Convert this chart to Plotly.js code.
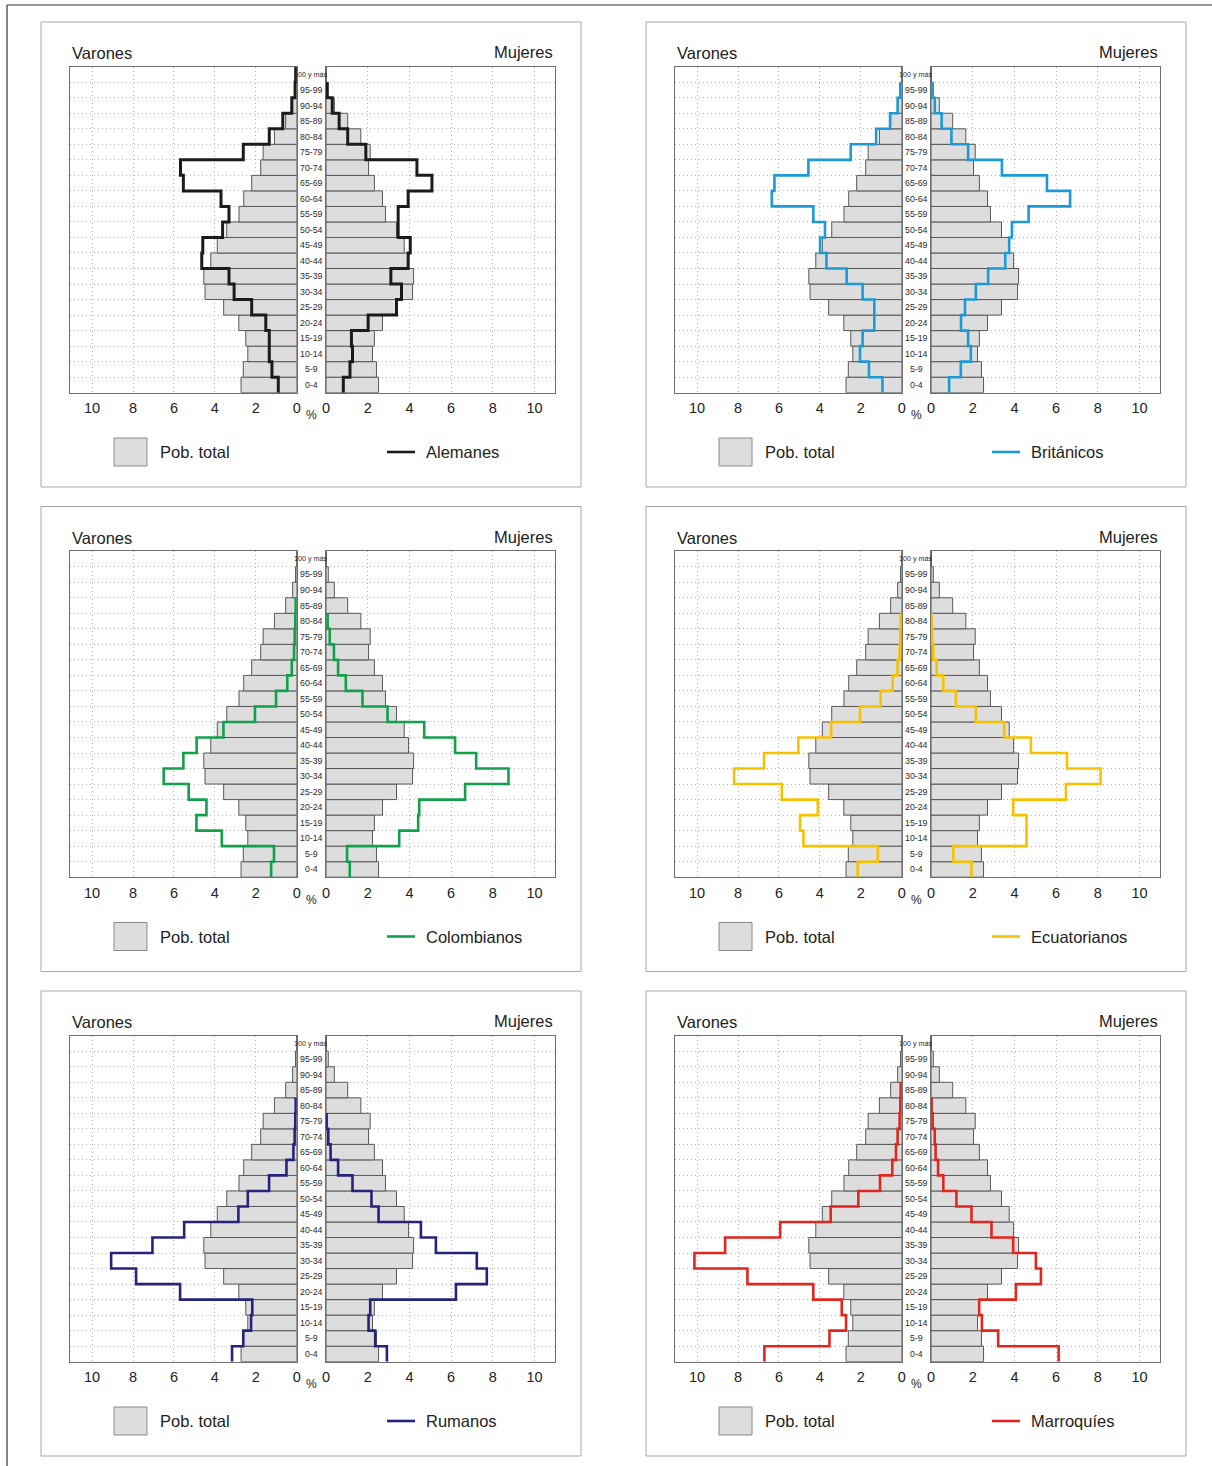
<!DOCTYPE html>
<html>
<head>
<meta charset="utf-8">
<script src="https://cdn.plot.ly/plotly-3.0.1.min.js"></script>
<style>
  html, body { margin: 0; padding: 0; background: #ffffff; }
  #chart { width: 1212px; height: 1466px; }
</style>
</head>
<body>
<div id="chart"></div>
<script>
// Age groups, bottom to top
const ageGroups = ['0-4', '5-9', '10-14', '15-19', '20-24', '25-29', '30-34', '35-39', '40-44', '45-49',
  '50-54', '55-59', '60-64', '65-69', '70-74', '75-79', '80-84', '85-89', '90-94', '95-99', '100 y más'];

// Total population (% of each sex)
const totalVarones = [2.72, 2.61, 2.39, 2.49, 2.83, 3.57, 4.48, 4.54, 4.20, 3.88,
  3.42, 2.82, 2.59, 2.20, 1.76, 1.64, 1.09, 0.54, 0.20, 0.06, 0.01];
const totalMujeres = [2.52, 2.42, 2.23, 2.32, 2.71, 3.38, 4.15, 4.20, 3.96, 3.75,
  3.38, 2.85, 2.71, 2.32, 2.04, 2.12, 1.67, 1.04, 0.40, 0.11, 0.02];

// Foreign population by nationality (% of each sex); null = no data for that group
const alemanesVarones = [0.90, 1.21, 1.34, 1.34, 1.51, 2.20, 3.06, 3.31, 4.64, 4.59,
  3.62, 3.31, 3.70, 5.54, 5.68, 2.61, 1.34, 0.68, 0.24, 0.08, 0.05];
const alemanesMujeres = [0.83, 1.15, 1.27, 1.22, 2.02, 3.38, 3.62, 3.11, 3.94, 4.04,
  3.46, 3.46, 3.94, 5.08, 4.36, 1.91, 1.04, 0.63, 0.30, 0.05, null];

const britanicosVarones = [0.94, 1.60, 2.04, 1.91, 1.34, 1.34, 1.91, 2.69, 3.68, 3.99,
  3.75, 4.32, 6.35, 6.22, 4.56, 2.49, 1.25, 0.57, 0.20, 0.07, null];
const britanicosMujeres = [0.87, 1.43, 1.91, 1.78, 1.44, 1.63, 2.15, 2.74, 3.56, 3.75,
  3.88, 4.68, 6.67, 5.56, 3.40, 1.78, 0.98, 0.51, 0.18, 0.03, null];

const colombianosVarones = [1.25, 1.11, 3.66, 4.90, 4.41, 5.28, 6.50, 5.54, 4.89, 3.58,
  2.04, 1.01, 0.46, 0.24, 0.13, 0.10, 0.07, 0.05, null, null, null];
const colombianosMujeres = [1.14, 1.01, 3.51, 4.42, 4.47, 6.67, 8.75, 7.20, 6.19, 4.71,
  2.95, 1.75, 0.95, 0.58, 0.38, 0.18, 0.08, null, null, null, null];

const ecuatorianosVarones = [2.15, 1.17, 4.80, 4.97, 4.10, 5.86, 8.19, 6.73, 5.05, 3.45,
  2.04, 1.03, 0.44, 0.20, 0.10, 0.07, 0.05, null, null, null, null];
const ecuatorianosMujeres = [1.94, 1.07, 4.58, 4.58, 3.94, 6.47, 8.13, 6.52, 4.79, 3.51,
  2.15, 1.19, 0.59, 0.27, 0.11, 0.06, 0.03, null, null, null, null];

const rumanosVarones = [3.16, 2.61, 2.23, 2.17, 5.70, 7.85, 9.07, 7.05, 5.50, 2.85,
  2.39, 1.35, 0.50, 0.16, 0.10, 0.07, 0.05, null, null, null, null];
const rumanosMujeres = [2.92, 2.36, 2.04, 2.12, 6.23, 7.71, 7.23, 5.27, 4.55, 2.52,
  2.18, 1.27, 0.58, 0.22, 0.11, 0.03, null, null, null, null, null];

const marroquiesVarones = [6.71, 3.53, 2.72, 2.93, 4.32, 7.54, 10.13, 8.63, 5.94, 3.47,
  2.12, 1.06, 0.46, 0.28, 0.20, 0.10, 0.07, 0.05, null, null, null];
const marroquiesMujeres = [6.12, 3.22, 2.44, 2.31, 4.07, 5.27, 5.03, 3.94, 2.90, 1.94,
  1.22, 0.59, 0.34, 0.22, 0.18, 0.08, 0.03, null, null, null, null];

const nationalities = ['Alemanes', 'Británicos', 'Colombianos', 'Ecuatorianos', 'Rumanos', 'Marroquíes'];
const varonesSeries = [alemanesVarones, britanicosVarones, colombianosVarones, ecuatorianosVarones, rumanosVarones, marroquiesVarones];
const mujeresSeries = [alemanesMujeres, britanicosMujeres, colombianosMujeres, ecuatorianosMujeres, rumanosMujeres, marroquiesMujeres];
const lineColors = ['#1b1b1b', '#1c9ad6', '#12a04c', '#f6c200', '#26237d', '#e0261f'];
const xTicks = [0, 2, 4, 6, 8, 10];

// ---- page geometry (pixels) ----
const W = 1212, H = 1466;
const px = x => x / W;
const py = y => 1 - y / H;
const colX = [41, 646];
const rowY = [22, 506.5, 991];
const FONT = '"Liberation Sans Narrow", "Liberation Sans", Arial, sans-serif';

const traces = [];
const shapes = [];
const annotations = [];
const layout = {
  width: W, height: H,
  margin: { l: 0, r: 0, t: 0, b: 0 },
  paper_bgcolor: '#ffffff', plot_bgcolor: '#ffffff',
  showlegend: false,
  font: { family: FONT, color: '#222222' },
  bargap: 0
};

const idx = ageGroups.map((_, i) => i);
const rowEdges = ageGroups.slice(1).map((_, i) => i + 0.5);

// Stepped outline: one vertical segment per age group, joined at the row edges
function stepPath(vals) {
  let last = -1;
  vals.forEach((v, i) => { if (v !== null) last = i; });
  const xs = [vals[0]], ys = [-0.5];
  for (let i = 0; i <= last; i++) { xs.push(vals[i]); ys.push(i); }
  xs.push(vals[last]); ys.push(last + 0.5);
  return { xs, ys };
}

function axisName(kind, n) { return n === 1 ? kind + 'axis' : kind + 'axis' + n; }
function axisRef(kind, n) { return n === 1 ? kind : kind + n; }

const GRID = { showgrid: true, gridcolor: '#b4b4b4', griddash: '1px,3px', gridwidth: 1 };
const FRAME = { showline: true, mirror: true, linecolor: '#6e6e6e', linewidth: 1, zeroline: false, fixedrange: true };
const TICKFONT = { size: 14.5, family: FONT, color: '#222' };

nationalities.forEach((name, p) => {
  const ox = colX[p % 2];
  const oy = rowY[Math.floor(p / 2)];
  const nM = 2 * p + 1, nW = 2 * p + 2;
  const yDom = [py(oy + 370.7), py(oy + 44.7)];

  layout[axisName('x', nM)] = Object.assign({
    domain: [px(ox + 29), px(ox + 255.7)], range: [11.08, 0], anchor: axisRef('y', nM),
    tickvals: xTicks, ticks: 'outside', ticklen: 2, tickcolor: 'rgba(0,0,0,0)', tickfont: TICKFONT
  }, GRID, FRAME);
  layout[axisName('y', nM)] = Object.assign({
    domain: yDom, range: [-0.5, 20.5], anchor: axisRef('x', nM),
    tickvals: rowEdges, showticklabels: false, ticks: ''
  }, GRID, FRAME);
  layout[axisName('x', nW)] = Object.assign({
    domain: [px(ox + 285), px(ox + 514)], range: [0, 10.98], anchor: axisRef('y', nW),
    tickvals: xTicks, ticks: 'outside', ticklen: 2, tickcolor: 'rgba(0,0,0,0)', tickfont: TICKFONT
  }, GRID, FRAME);
  layout[axisName('y', nW)] = Object.assign({
    domain: yDom, range: [-0.5, 20.5], anchor: axisRef('x', nW),
    tickvals: rowEdges, showticklabels: false, ticks: ''
  }, GRID, FRAME);

  const barStyle = { color: '#dddddd', line: { color: '#585858', width: 1 } };
  traces.push({
    type: 'bar', orientation: 'h', x: totalVarones, y: idx, width: 1,
    marker: barStyle, xaxis: axisRef('x', nM), yaxis: axisRef('y', nM), hoverinfo: 'skip'
  });
  traces.push({
    type: 'bar', orientation: 'h', x: totalMujeres, y: idx, width: 1,
    marker: barStyle, xaxis: axisRef('x', nW), yaxis: axisRef('y', nW), hoverinfo: 'skip'
  });

  const sm = stepPath(varonesSeries[p]);
  const sw = stepPath(mujeresSeries[p]);
  const lw = p === 0 ? 3 : 2.6;
  traces.push({
    type: 'scatter', mode: 'lines', x: sm.xs, y: sm.ys,
    line: { color: lineColors[p], width: lw, shape: 'vhv' },
    xaxis: axisRef('x', nM), yaxis: axisRef('y', nM), cliponaxis: false, hoverinfo: 'skip'
  });
  traces.push({
    type: 'scatter', mode: 'lines', x: sw.xs, y: sw.ys,
    line: { color: lineColors[p], width: lw, shape: 'vhv' },
    xaxis: axisRef('x', nW), yaxis: axisRef('y', nW), cliponaxis: false, hoverinfo: 'skip'
  });

  // age labels in the central column
  ageGroups.forEach((g, i) => {
    annotations.push({
      xref: 'paper', yref: axisRef('y', nM), x: px(ox + 270), y: i,
      text: g, showarrow: false, xanchor: 'center', yanchor: 'middle',
      font: { size: g.length > 5 ? 7.2 : 8.8, family: FONT, color: '#2a2a2a' }
    });
  });

  // sex headings and axis unit
  annotations.push({
    xref: 'paper', yref: 'paper', x: px(ox + 29), y: py(oy + 31),
    text: 'Varones', showarrow: false, xanchor: 'left', yanchor: 'middle',
    font: { size: 16.5, family: FONT, color: '#222' }
  });
  annotations.push({
    xref: 'paper', yref: 'paper', x: px(ox + 514), y: py(oy + 30),
    text: 'Mujeres', showarrow: false, xanchor: 'right', yanchor: 'middle',
    font: { size: 16.5, family: FONT, color: '#222' }
  });
  annotations.push({
    xref: 'paper', yref: 'paper', x: px(ox + 270), y: py(oy + 393),
    text: '%', showarrow: false, xanchor: 'center', yanchor: 'middle',
    font: { size: 12, family: FONT, color: '#222' }
  });

  // legend
  shapes.push({
    type: 'rect', xref: 'paper', yref: 'paper',
    x0: px(ox + 73), x1: px(ox + 106), y0: py(oy + 444), y1: py(oy + 416),
    fillcolor: '#dddddd', line: { color: '#8a8a8a', width: 1 }
  });
  annotations.push({
    xref: 'paper', yref: 'paper', x: px(ox + 117), y: py(oy + 430),
    text: 'Pob. total', showarrow: false, xanchor: 'left', yanchor: 'middle',
    font: { size: 16.5, family: FONT, color: '#222' }
  });
  shapes.push({
    type: 'line', xref: 'paper', yref: 'paper',
    x0: px(ox + 346), x1: px(ox + 374), y0: py(oy + 430), y1: py(oy + 430),
    line: { color: lineColors[p], width: 2.6 }
  });
  annotations.push({
    xref: 'paper', yref: 'paper', x: px(ox + 383), y: py(oy + 430),
    text: name, showarrow: false, xanchor: 'left', yanchor: 'middle',
    font: { size: 16.5, family: FONT, color: '#222' }
  });

  // panel frame
  shapes.push({
    type: 'rect', xref: 'paper', yref: 'paper',
    x0: px(ox), x1: px(ox + 540), y0: py(oy + 465), y1: py(oy),
    line: { color: '#a8a8a8', width: 1 }, fillcolor: 'rgba(0,0,0,0)', layer: 'below'
  });
});

// page rule along the top and left
shapes.push({ type: 'line', xref: 'paper', yref: 'paper', x0: px(7), x1: 1, y0: py(5), y1: py(5), line: { color: '#333', width: 1.2 } });
shapes.push({ type: 'line', xref: 'paper', yref: 'paper', x0: px(7), x1: px(7), y0: py(5), y1: 0, line: { color: '#333', width: 1.2 } });

layout.shapes = shapes;
layout.annotations = annotations;

Plotly.newPlot('chart', traces, layout, { staticPlot: true, displayModeBar: false });
</script>
</body>
</html>
